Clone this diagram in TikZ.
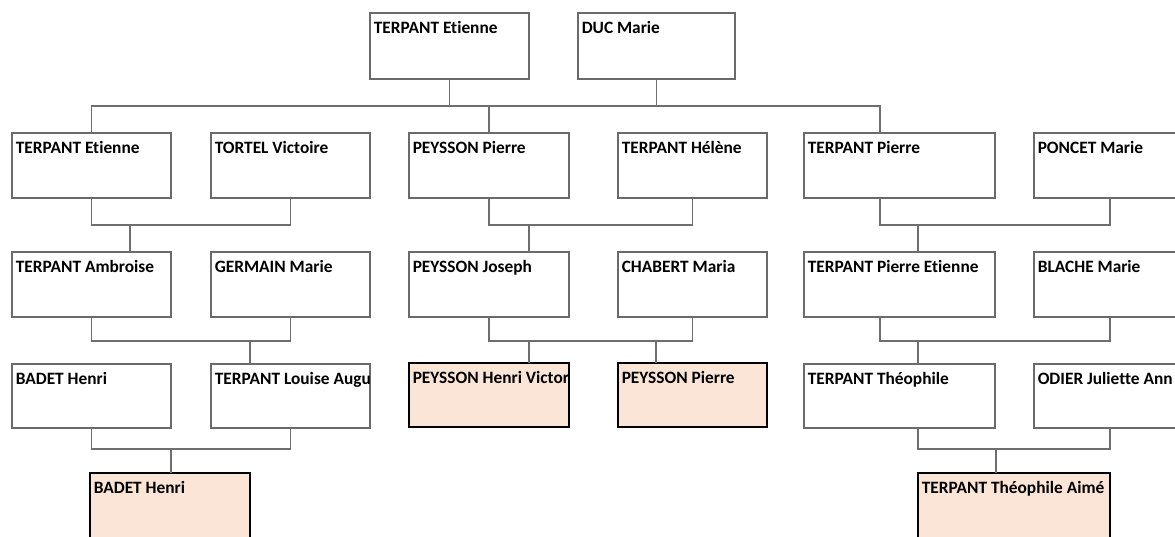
\documentclass[tikz,border=0pt]{standalone}
\usepackage{fontspec}
\setmainfont{Carlito}[Ligatures=NoCommon]
\definecolor{hl}{HTML}{FBE5D6}
\definecolor{bd}{HTML}{6A6A6A}
\definecolor{cn}{HTML}{6E6E6E}
\tikzset{
  pbox/.style={draw=bd, line width=1pt, fill=white, inner sep=0pt, outer sep=0pt},
  hbox/.style={draw=black, line width=1.6pt, fill=hl, inner sep=0pt, outer sep=0pt},
  lbl/.style={anchor=base west, inner sep=0pt, font=\fontsize{13}{15}\selectfont\bfseries, text=black},
  conn/.style={draw=cn, line width=1pt},
}
\newcommand\famnode[7]{%
  \node[#6, minimum width={(#4-#2)*0.75pt}, minimum height={(#5-#3)*0.75pt}] (#1) at ({(#2+#4)/2},{(#3+#5)/2}) {};
  \begin{scope}
    \clip (#1.south west) rectangle (#1.north east);
    \node[lbl] (#1t) at ([shift={(3.5,20.5)}]#1.north west) {#7};
  \end{scope}}
\begin{document}
\begin{tikzpicture}[x=0.75pt, y=-0.75pt]
\useasboundingbox (0,0) rectangle (1175,536);
\clip (0,0) rectangle (1175,536);
% row 1
\famnode{t1}{370}{13}{529}{79}{pbox}{TERPANT Etienne}
\famnode{t2}{578}{13}{735}{79}{pbox}{DUC Marie}
% row 2
\famnode{l21}{12}{133}{171}{198}{pbox}{TERPANT Etienne}
\famnode{l22}{211}{133}{370}{198}{pbox}{TORTEL Victoire}
\famnode{m21}{409}{133}{569}{198}{pbox}{PEYSSON Pierre}
\famnode{m22}{618}{133}{767}{198}{pbox}{TERPANT Hélène}
\famnode{r21}{804}{133}{995}{198}{pbox}{TERPANT Pierre}
\famnode{r22}{1034}{133}{1200}{198}{pbox}{PONCET Marie}
% row 3
\famnode{l31}{12}{252}{171}{317}{pbox}{TERPANT Ambroise}
\famnode{l32}{211}{252}{370}{317}{pbox}{GERMAIN Marie}
\famnode{m31}{409}{252}{569}{317}{pbox}{PEYSSON Joseph}
\famnode{m32}{618}{252}{767}{317}{pbox}{CHABERT Maria}
\famnode{r31}{804}{252}{995}{317}{pbox}{TERPANT Pierre Etienne}
\famnode{r32}{1034}{252}{1200}{317}{pbox}{BLACHE Marie}
% row 4
\famnode{l41}{12}{364}{171}{428}{pbox}{BADET Henri}
\famnode{l42}{211}{364}{370}{428}{pbox}{TERPANT Louise Augu}
\famnode{m41}{409}{363}{569}{427}{hbox}{PEYSSON Henri Victor}
\famnode{m42}{618}{363}{767}{427}{hbox}{PEYSSON Pierre}
\famnode{r41}{804}{364}{995}{428}{pbox}{TERPANT Théophile}
\famnode{r42}{1034}{364}{1200}{428}{pbox}{ODIER Juliette Ann}
% row 5
\famnode{l5}{90}{473}{250}{560}{hbox}{BADET Henri}
\famnode{r5}{918}{473}{1110}{560}{hbox}{TERPANT Théophile Aimé}
% junction coordinates
\coordinate (ja) at (880,106);
\coordinate (jl2) at (130,225);
\coordinate (jl3) at (250,341);
\coordinate (jl4) at (171,449);
\coordinate (jm2) at (529,225);
\coordinate (jm3) at (656,341);
\coordinate (jm3b) at (529,341);
\coordinate (jr2) at (918,225);
\coordinate (jr3) at (918,341);
\coordinate (jr4) at (996,449);
\coordinate (xr) at (1110,0);
\coordinate (xa) at (880,0);
\coordinate (xb) at (918,0);
% top family
\draw[conn] (l21.north) |- (ja) -- (ja |- r21.north);
\draw[conn] (t1.south) -- (t1.south |- ja);
\draw[conn] (t2.south) -- (t2.south |- ja);
\draw[conn] (m21.north) -- (m21.north |- ja);
% left
\draw[conn] (l21.south) |- (jl2 -| l22.south) -- (l22.south);
\draw[conn] (jl2) -- (jl2 |- l31.north);
\draw[conn] (l31.south) |- (jl3 -| l32.south) -- (l32.south);
\draw[conn] (jl3) -- (jl3 |- l42.north);
\draw[conn] (l41.south) |- (jl4 -| l42.south) -- (l42.south);
\draw[conn] (jl4) -- (jl4 |- l5.north);
% middle
\draw[conn] (m21.south) |- (jm2 -| m22.south) -- (m22.south);
\draw[conn] (jm2) -- (jm2 |- m31.north);
\draw[conn] (m31.south) |- (jm3 -| m32.south) -- (m32.south);
\draw[conn] (jm3b) -- (jm3b |- m41.north);
\draw[conn] (jm3) -- (jm3 |- m42.north);
% right
\draw[conn] (xa |- r21.south) |- (jr2 -| xr) -- (xr |- r22.south);
\draw[conn] (jr2) -- (jr2 |- r31.north);
\draw[conn] (xa |- r31.south) |- (jr3 -| xr) -- (xr |- r32.south);
\draw[conn] (jr3) -- (jr3 |- r41.north);
\draw[conn] (xb |- r41.south) |- (jr4 -| xr) -- (xr |- r42.south);
\draw[conn] (jr4) -- (jr4 |- r5.north);
\end{tikzpicture}
\end{document}
